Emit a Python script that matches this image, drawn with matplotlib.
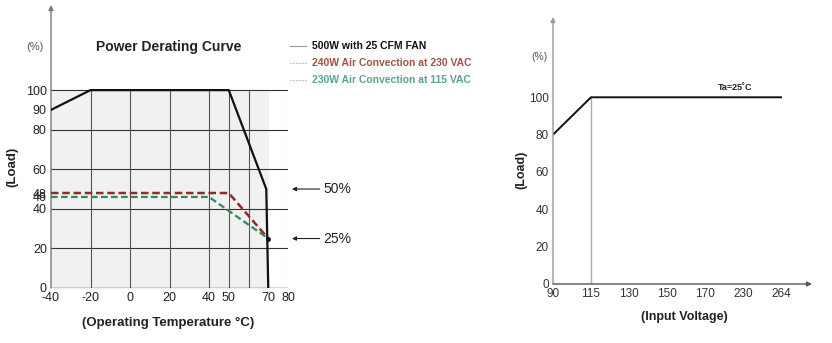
import numpy as np
import matplotlib.pyplot as plt

plt.rcParams['font.family'] = ['Liberation Sans', 'DejaVu Sans']

# derating vs ambient temperature
temp_fan = [-40, -20, 50, 69, 70]
load_fan = [90, 100, 100, 50, 0]
temp_230 = [-40, 50, 70]
load_230 = [48, 48, 25]
temp_115 = [-40, 40, 70]
load_115 = [46, 46, 25]
temp_ticks = [-40, -20, 0, 20, 40, 50, 70, 80]
temp_grid = [-20, 0, 20, 40, 50, 60]
load_ticks = [0, 20, 40, 46, 48, 60, 80, 90, 100]
load_grid = [20, 40, 60, 80, 100]

# derating vs input voltage
volt_labels = ['90', '115', '130', '150', '170', '230', '264']
load_volt = [80, 100, 100, 100, 100, 100, 100]
volt_ticks = [0, 20, 40, 60, 80, 100]

W, H = 832, 343
fig = plt.figure(figsize=(W / 100, H / 100), dpi=100)


def fx(x):
    return x / W


def fy(y):
    return 1 - y / H


# ---------- left chart ----------
ax = fig.add_axes([fx(51), fy(288), (288 - 51) / W, (288 - 5) / H])
ax.set_xlim(-40, 80)
ax.set_ylim(0, 143)
for s in ['top', 'right', 'bottom', 'left']:
    ax.spines[s].set_visible(False)

ax.fill_between([-40, 70], 0, 100, color='#f1f1f1', zorder=0)
for g in load_grid:
    ax.plot([-40, 80], [g, g], color='#333333', lw=0.8, zorder=1)
for g in temp_grid:
    ax.plot([g, g], [0, 100], color='#555555', lw=0.8, zorder=1)
ax.plot([80, 80], [0, 100], color='#bbbbbb', lw=0.8, zorder=1)
ax.plot([-40, 80], [0, 0], color='#444444', lw=1.0, zorder=2)
ax.annotate('', xy=(-40, 143), xytext=(-40, 0),
            arrowprops=dict(arrowstyle='-|>', color='#777777', lw=1.0,
                            mutation_scale=7, shrinkA=0, shrinkB=0))

ax.plot(temp_fan, load_fan, color='#111111', lw=1.6, zorder=4)
ax.plot(temp_230, load_230, color='#8e2b2b', lw=1.8, ls=(0, (3, 1.5)), zorder=3)
ax.plot(temp_115, load_115, color='#2f8a55', lw=1.6, ls=(0, (3, 1.5)), zorder=3)
ax.plot([70], [25], 'o', color='#111111', ms=2.5, zorder=5)

ax.set_xticks(temp_ticks)
ax.set_xticklabels([str(t) for t in temp_ticks])
ax.set_yticks(load_ticks)
ax.set_yticklabels([str(t) for t in load_ticks])
ax.tick_params(length=0, labelsize=9, labelcolor='#222222', pad=3)

for val in [50, 25]:
    ax.annotate('', xy=(82, val), xytext=(96, val), annotation_clip=False,
                arrowprops=dict(arrowstyle='-|>', color='#222222', lw=0.8,
                                mutation_scale=6, shrinkA=0, shrinkB=0))
    ax.text(98, val, f'{val}%', fontsize=10, va='center', ha='left',
            color='#222222', clip_on=False)

fig.text(fx(169), fy(47), 'Power Derating Curve', fontsize=10,
         fontweight='bold', ha='center', va='center', color='#222222')
fig.text(fx(35), fy(47), '(%)', fontsize=8, ha='center', va='center',
         color='#555555')
fig.text(fx(12), fy(167), '(Load)', fontsize=9.5, fontweight='bold',
         rotation=90, ha='center', va='center', color='#222222')
fig.text(fx(168), fy(323), '(Operating Temperature °C)', fontsize=9.5,
         fontweight='bold', ha='center', va='center', color='#222222')

# legend
legend_items = [('500W with 25 CFM FAN', '#111111', '-'),
                ('240W Air Convection at 230 VAC', '#a0524a', ':'),
                ('230W Air Convection at 115 VAC', '#5ba38a', ':')]
for i, (lab, col, ls) in enumerate(legend_items):
    yy = 46 + i * 17
    fig.add_artist(plt.Line2D([fx(290), fx(306)], [fy(yy), fy(yy)],
                              color='#999999', lw=0.8, ls=ls))
    fig.text(fx(312), fy(yy), lab, fontsize=7.5, fontweight='bold',
             ha='left', va='center', color=col)

# ---------- right chart ----------
step = 38
ax2 = fig.add_axes([fx(553), fy(284), (812 - 553) / W, (284 - 17) / H])
ax2.set_xlim(0, (812 - 553) / step)
ax2.set_ylim(0, 143)
for s in ['top', 'right', 'bottom', 'left']:
    ax2.spines[s].set_visible(False)

xpos = np.arange(len(volt_labels))
ax2.annotate('', xy=(0, 143), xytext=(0, 0),
             arrowprops=dict(arrowstyle='-|>', color='#999999', lw=1.0,
                             mutation_scale=7, shrinkA=0, shrinkB=0))
ax2.annotate('', xy=((812 - 553) / step, 0), xytext=(0, 0),
             arrowprops=dict(arrowstyle='-|>', color='#555555', lw=1.0,
                             mutation_scale=7, shrinkA=0, shrinkB=0))
ax2.plot([1, 1], [0, 100], color='#aaaaaa', lw=1.0)
ax2.plot(xpos, load_volt, color='#111111', lw=1.4)
ax2.text(4.8, 105, 'Ta=25˚C', fontsize=6.5, fontweight='bold',
         ha='center', va='center', color='#222222')

ax2.set_xticks(xpos)
ax2.set_xticklabels(volt_labels)
ax2.set_yticks(volt_ticks)
ax2.set_yticklabels([str(t) for t in volt_ticks])
ax2.tick_params(length=0, labelsize=8.5, labelcolor='#333333', pad=3)

fig.text(fx(540), fy(57), '(%)', fontsize=7.5, ha='center', va='center',
         color='#555555')
fig.text(fx(521), fy(170), '(Load)', fontsize=9, fontweight='bold',
         rotation=90, ha='center', va='center', color='#222222')
fig.text(fx(684), fy(317), '(Input Voltage)', fontsize=9,
         fontweight='bold', ha='center', va='center', color='#222222')

fig.savefig('out.png', dpi=100, facecolor='white')
